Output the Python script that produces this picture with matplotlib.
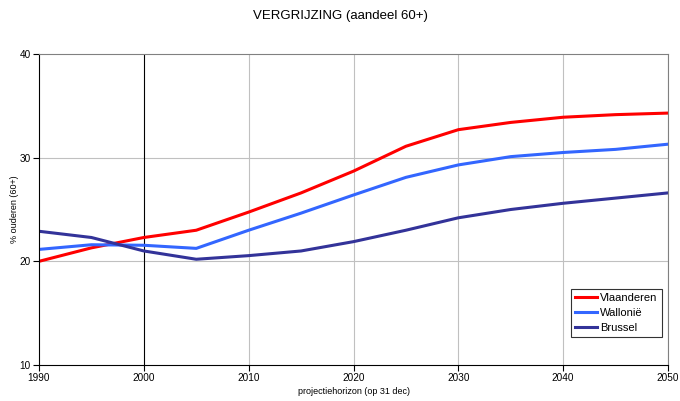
import matplotlib
matplotlib.use("Agg")
import matplotlib.pyplot as plt

plt.rcParams["font.family"] = ["Liberation Sans", "DejaVu Sans"]

years = [1990, 1995, 2000, 2005, 2010, 2015, 2020, 2025, 2030, 2035, 2040, 2045, 2050]
vlaanderen = [20.0, 21.3, 22.3, 23.0, 24.75, 26.6, 28.7, 31.1, 32.7, 33.4, 33.9, 34.15, 34.3]
wallonie = [21.15, 21.6, 21.55, 21.25, 23.0, 24.65, 26.4, 28.1, 29.3, 30.1, 30.5, 30.8, 31.3]
brussel = [22.9, 22.3, 21.0, 20.2, 20.55, 21.0, 21.9, 23.0, 24.2, 25.0, 25.6, 26.1, 26.6]

fig = plt.figure(figsize=(6.8, 4.01), dpi=100)
ax = fig.add_axes([39 / 680, 1 - 365 / 401, (668 - 39) / 680, (365 - 54) / 401])

ax.plot(years, vlaanderen, color="#ff0000", lw=2.2, label="Vlaanderen")
ax.plot(years, wallonie, color="#3366ff", lw=2.2, label="Walloni\u00eb")
ax.plot(years, brussel, color="#333399", lw=2.2, label="Brussel")

ax.set_xlim(1990, 2050)
ax.set_ylim(10, 40)
ax.set_xticks(range(1990, 2051, 10))
ax.set_yticks([10, 20, 30, 40])
ax.tick_params(labelsize=7.2, length=4, width=0.8, direction="out", pad=2)

# grid: light grey, with a black marker line at 2000
for x in range(2010, 2051, 10):
    ax.axvline(x, color="#c0c0c0", lw=0.8, zorder=0)
for y in [20, 30]:
    ax.axhline(y, color="#c0c0c0", lw=0.8, zorder=0)
ax.axvline(2000, color="black", lw=0.8, zorder=0)

for side in ["top", "right"]:
    ax.spines[side].set_color("#808080")
    ax.spines[side].set_linewidth(0.8)
ax.spines["left"].set_linewidth(0.8)
ax.spines["bottom"].set_linewidth(0.8)

ax.set_xlabel("projectiehorizon (op 31 dec)", fontsize=6.5, labelpad=3)
ax.set_ylabel("% ouderen (60+)", fontsize=6.5, labelpad=0)
fig.suptitle("VERGRIJZING (aandeel 60+)", fontsize=9.5, y=0.975)

leg = ax.legend(loc="lower right", bbox_to_anchor=(0.99, 0.09), fontsize=8,
                frameon=True, fancybox=False, handlelength=2.0, handletextpad=0.3,
                borderpad=0.35, labelspacing=0.45, borderaxespad=0)
leg.get_frame().set_edgecolor("black")
leg.get_frame().set_linewidth(0.8)

fig.savefig("out.png", dpi=100)
